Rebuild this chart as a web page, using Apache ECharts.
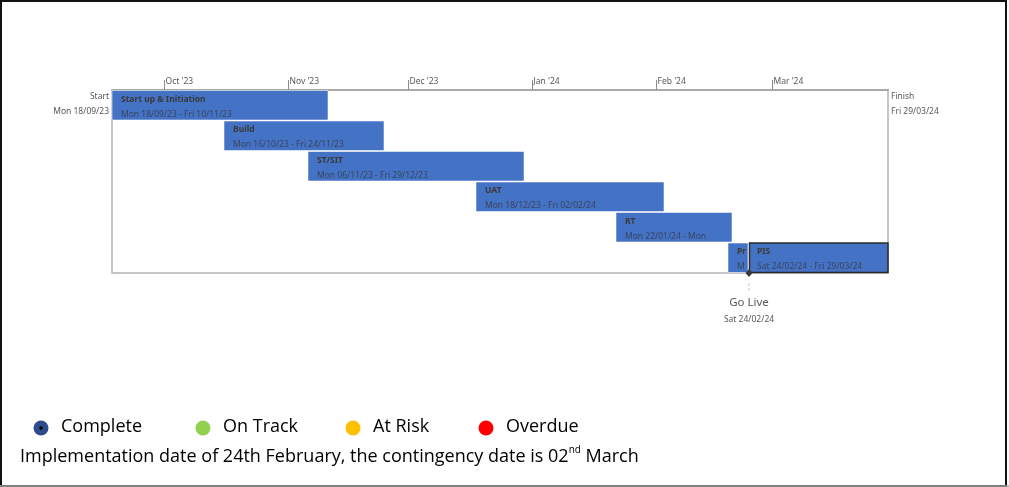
<!DOCTYPE html>
<html>
<head>
<meta charset="utf-8">
<script src="https://cdn.jsdelivr.net/npm/echarts@6/dist/echarts.min.js"></script>
<style>
html,body{margin:0;padding:0;background:#fff;}
#chart{width:1009px;height:487px;}
</style>
</head>
<body>
<div id="chart"></div>
<script>
// ---- data ----
const taskNames  = ['Start up & Initiation', 'Build', 'ST/SIT', 'UAT', 'RT', 'Pre Go-Live', 'PIS'];
const taskStarts = ['2023-09-18', '2023-10-16', '2023-11-06', '2023-12-18', '2024-01-22', '2024-02-19', '2024-02-24'];
const taskEnds   = ['2023-11-10', '2023-11-24', '2023-12-29', '2024-02-02', '2024-02-19', '2024-02-23', '2024-03-29'];
const taskRows   = [0, 1, 2, 3, 4, 5, 5];
const rowIds     = ['0', '1', '2', '3', '4', '5'];
const highlightedTask = 'PIS';

const projectStart = '2023-09-18';
const projectFinish = '2024-03-29';

const monthTicks  = ['2023-10-01', '2023-11-01', '2023-12-01', '2024-01-01', '2024-02-01', '2024-03-01'];
const monthNames  = ['Jan','Feb','Mar','Apr','May','Jun','Jul','Aug','Sep','Oct','Nov','Dec'];
const dayNames    = ['Sun','Mon','Tue','Wed','Thu','Fri','Sat'];

const milestoneNames = ['Go Live'];
const milestoneDates = ['2024-02-24'];

const statusNames  = ['Complete', 'On Track', 'At Risk', 'Overdue'];
const statusColors = ['#2E4C8C', '#92D050', '#FFC000', '#FF0000'];

const footnote = 'Implementation date of 24th February, the contingency date is 02{sup|nd} March';

// ---- helpers ----
const DAY = 86400000;
function ts(s) { const p = s.split('-'); return new Date(+p[0], +p[1] - 1, +p[2]).getTime(); }
function pad(n) { return (n < 10 ? '0' : '') + n; }
function fmtDay(t) {
  const d = new Date(t);
  return dayNames[d.getDay()] + ' ' + pad(d.getDate()) + '/' + pad(d.getMonth() + 1) + '/' + pad(d.getFullYear() % 100);
}
function fmtMonth(t) {
  const d = new Date(t);
  return monthNames[d.getMonth()] + " '" + pad(d.getFullYear() % 100);
}
const measureCtx = document.createElement('canvas').getContext('2d');
// keep whole words that fit; if even the first word does not fit, leave it for char truncation
function fitWords(text, font, width) {
  measureCtx.font = font;
  if (measureCtx.measureText(text).width <= width) return text;
  const words = text.split(' ');
  let out = words[0];
  if (measureCtx.measureText(out).width > width) return text;
  for (let k = 1; k < words.length; k++) {
    const next = out + ' ' + words[k];
    if (measureCtx.measureText(next).width > width) break;
    out = next;
  }
  return out;
}

const FONT = '"Noto Sans", "Open Sans", sans-serif';
const BIG_FONT = '"Open Sans", "Noto Sans", sans-serif';
const TITLE_FONT = 'bold 8.5px ' + FONT;
const DATE_FONT = '8.5px ' + FONT;
const axisMin = ts(projectStart);
const axisMax = ts(projectFinish) + DAY;

const taskData = taskNames.map((n, i) => [ts(taskStarts[i]), ts(taskEnds[i]) + DAY, taskRows[i], i]);
const endpointData = [
  [axisMin, 0, 'Start', fmtDay(ts(projectStart)), 'left'],
  [axisMax, 0, 'Finish', fmtDay(ts(projectFinish)), 'right']
];
const milestoneData = milestoneNames.map((n, i) => [ts(milestoneDates[i]), 5, i]);
const tickData = monthTicks.map((m, i) => [ts(m), 0, i]);

const chart = echarts.init(document.getElementById('chart'), null, { renderer: 'canvas' });

chart.setOption({
  animation: false,
  backgroundColor: '#fff',
  grid: {
    left: 112, right: 121, top: 90, bottom: 214,
    show: true, borderColor: '#b4b4b4', borderWidth: 1.5, backgroundColor: 'transparent'
  },
  xAxis: {
    type: 'time',
    position: 'top',
    min: axisMin,
    max: axisMax,
    axisLine: { show: true, lineStyle: { color: '#a9a9a9', width: 2 } },
    axisTick: { show: false },
    axisLabel: { show: false },
    splitLine: { show: false }
  },
  yAxis: {
    type: 'category',
    data: rowIds,
    inverse: true,
    show: false
  },
  graphic: [
    { type: 'rect', silent: true, z: 100, shape: { x: 1, y: 1, width: 1005, height: 485 }, style: { fill: 'none', stroke: '#111', lineWidth: 2 } },
    { type: 'line', silent: true, z: 101, shape: { x1: 0, y1: 486, x2: 1009, y2: 486 }, style: { stroke: '#a6a6a6', lineWidth: 1.5 } },
    ...statusNames.flatMap((name, i) => {
      const cx = [41, 203, 353, 486][i];
      const items = [
        { type: 'circle', shape: { cx: cx, cy: 428, r: 7.5 }, style: { fill: statusColors[i] } },
        { type: 'text', x: cx + 20, y: 427, style: { text: name, font: '18px ' + BIG_FONT, fill: '#000', verticalAlign: 'middle' } }
      ];
      if (i === 0) items.push({ type: 'circle', shape: { cx: cx, cy: 428, r: 1.8 }, style: { fill: '#000' } });
      return items;
    }),
    {
      type: 'text', x: 20, y: 445,
      style: {
        text: footnote,
        font: '18px ' + BIG_FONT,
        fill: '#000',
        lineHeight: 23,
        rich: { sup: { fontSize: 10, lineHeight: 15, verticalAlign: 'top', fontFamily: 'Open Sans' } }
      }
    }
  ],
  series: [
    {
      type: 'custom',
      name: 'MonthTicks',
      data: tickData,
      encode: { x: 0, y: 1 },
      clip: false,
      renderItem: function (params, api) {
        const i = api.value(2);
        const p = api.coord([api.value(0), 0]);
        const h = api.size([0, 1])[1];
        const yt = p[1] - h / 2;
        const x = Math.round(p[0]) + 0.5;
        return {
          type: 'group',
          children: [
            { type: 'line', shape: { x1: x, y1: yt, x2: x, y2: yt - 10 }, style: { stroke: '#8c8c8c', lineWidth: 1 } },
            { type: 'text', x: x + 1, y: yt - 8, style: { text: fmtMonth(ts(monthTicks[i])), fill: '#595959', font: '8.5px ' + FONT, align: 'left', verticalAlign: 'middle' } }
          ]
        };
      }
    },
    {
      type: 'custom',
      name: 'Tasks',
      data: taskData,
      encode: { x: [0, 1], y: 2 },
      clip: false,
      renderItem: function (params, api) {
        const i = api.value(3);
        const row = api.value(2);
        const s = api.coord([api.value(0), row]);
        const e = api.coord([api.value(1), row]);
        const h = api.size([0, 1])[1];
        const x = s[0], w = e[0] - s[0];
        const top = s[1] - h / 2 + 0.5;
        const bh = h - 1;
        const hl = taskNames[i] === highlightedTask;
        const tw = Math.max(w - 8, 1);
        const label = fmtDay(ts(taskStarts[i])) + ' - ' + fmtDay(ts(taskEnds[i]));
        return {
          type: 'group',
          children: [
            {
              type: 'rect',
              shape: { x: hl ? x + 1.5 : x, y: top, width: hl ? w - 1.5 : w, height: bh },
              style: { fill: '#4472C4', stroke: hl ? '#2b2b2b' : 'rgba(255,255,255,0.55)', lineWidth: hl ? 1.5 : 1 }
            },
            {
              type: 'text',
              x: x + 9, y: top + 9,
              style: {
                text: fitWords(taskNames[i], TITLE_FONT, tw), fill: '#3a3a3a', font: TITLE_FONT,
                verticalAlign: 'middle', width: tw, overflow: 'truncate', ellipsis: ''
              }
            },
            {
              type: 'text',
              x: x + 9, y: top + 24,
              style: {
                text: fitWords(label, DATE_FONT, tw), fill: '#3a4560', font: DATE_FONT,
                verticalAlign: 'middle', width: tw, overflow: 'truncate', ellipsis: ''
              }
            }
          ]
        };
      }
    },
    {
      type: 'custom',
      name: 'Endpoints',
      data: endpointData,
      encode: { x: 0, y: 1 },
      clip: false,
      renderItem: function (params, api) {
        const d = endpointData[params.dataIndex];
        const p = api.coord([api.value(0), api.value(1)]);
        const h = api.size([0, 1])[1];
        const top = p[1] - h / 2;
        const left = d[4] === 'left';
        const tx = left ? p[0] - 3 : p[0] + 3;
        const align = left ? 'right' : 'left';
        return {
          type: 'group',
          children: [
            { type: 'text', x: tx, y: top + 7, style: { text: d[2], fill: '#595959', font: '8.5px ' + FONT, align: align, verticalAlign: 'middle' } },
            { type: 'text', x: tx, y: top + 22, style: { text: d[3], fill: '#595959', font: '8.5px ' + FONT, align: align, verticalAlign: 'middle' } }
          ]
        };
      }
    },
    {
      type: 'custom',
      name: 'Milestones',
      data: milestoneData,
      encode: { x: 0, y: 1 },
      clip: false,
      z: 5,
      renderItem: function (params, api) {
        const i = api.value(2);
        const p = api.coord([api.value(0), api.value(1)]);
        const h = api.size([0, 1])[1];
        const yb = p[1] + h / 2;
        const x = p[0] + 1;
        return {
          type: 'group',
          children: [
            { type: 'polygon', shape: { points: [[x, yb - 4], [x + 3.5, yb], [x, yb + 4], [x - 3.5, yb]] }, style: { fill: '#3a3a3a' } },
            { type: 'line', shape: { x1: x, y1: yb + 10, x2: x, y2: yb + 20 }, style: { stroke: '#c8c8c8', lineWidth: 1, lineDash: [3, 2] } },
            { type: 'text', x: x, y: yb + 30, style: { text: milestoneNames[i], fill: '#595959', font: '11.5px ' + FONT, align: 'center', verticalAlign: 'middle' } },
            { type: 'text', x: x, y: yb + 47, style: { text: fmtDay(ts(milestoneDates[i])), fill: '#595959', font: '8.5px ' + FONT, align: 'center', verticalAlign: 'middle' } }
          ]
        };
      }
    }
  ]
});
</script>
</body>
</html>
